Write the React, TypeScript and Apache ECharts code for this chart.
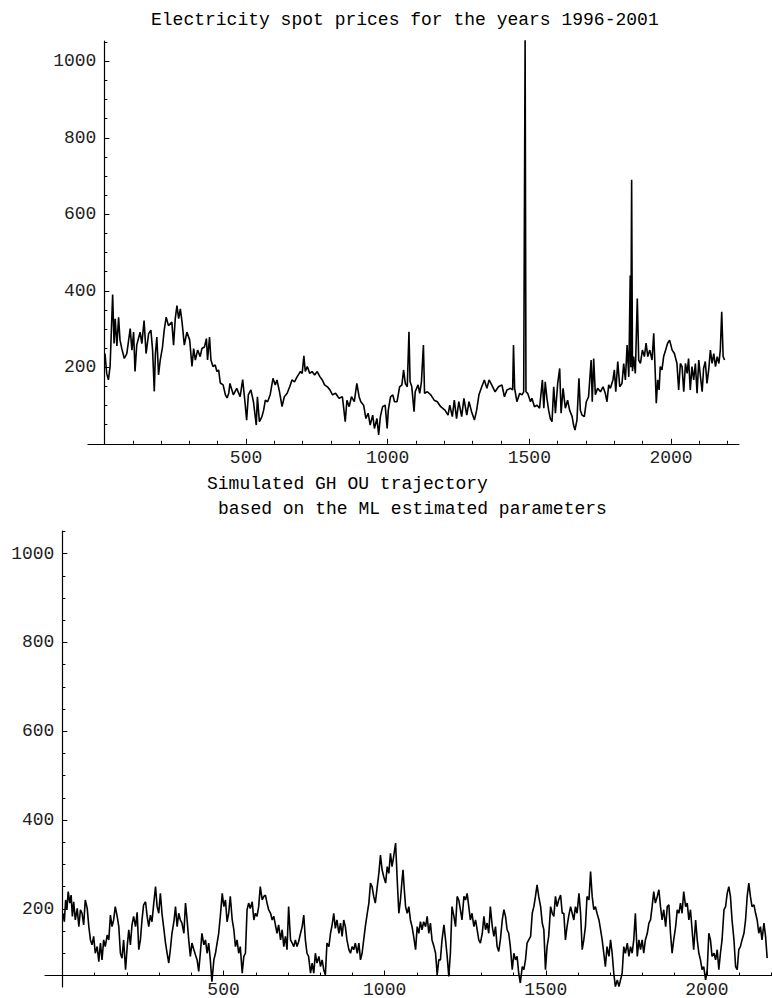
import React, { useEffect, useRef } from "react";
import * as echarts from "echarts";

const TITLE = "Electricity spot prices for the years 1996-2001";
const SUB1 = "Simulated GH OU trajectory";
const SUB2 = "based on the ML estimated parameters";

const majorYTicks = [200, 400, 600, 800, 1000];
const minorYTicks = [50, 100, 150, 250, 300, 350, 450, 500, 550, 650, 700, 750, 850, 900, 950, 1050];
const majorXTicks = [500, 1000, 1500, 2000];
const minorXTicks = [100, 200, 300, 400, 600, 700, 800, 900, 1100, 1200, 1300, 1400, 1600, 1700, 1800, 1900, 2100, 2200];

const spotDays = [
  2, 8, 14, 20, 29, 34, 38, 44, 50, 55, 61, 70, 79, 91, 97, 103, 108, 114, 126, 132, 140, 147, 156, 164, 170, 176, 180, 185, 191, 197,
  205, 211, 218, 226, 238, 244, 250, 256, 262, 268, 274, 282, 291, 301, 309, 315, 321, 329, 338, 344, 353, 360, 364, 371, 376, 383, 391, 397,
  403, 409, 419, 427, 433, 439, 443, 455, 467, 479, 488, 496, 502, 508, 517, 526, 536, 540, 547, 556, 562, 568, 576, 585, 595, 603, 609, 618,
  627, 635, 645, 654, 662, 671, 680, 692, 698, 704, 709, 716, 725, 733, 742, 751, 761, 769, 777, 787, 796, 805, 816, 828, 840, 850, 856, 864,
  872, 882, 891, 899, 905, 915, 923, 931, 938, 947, 953, 962, 968, 974, 982, 991, 998, 1002, 1010, 1018, 1024, 1033, 1042, 1050, 1056, 1062,
  1069, 1075, 1079, 1085, 1093, 1097, 1107, 1113, 1119, 1126, 1130, 1140, 1152, 1164, 1175, 1187, 1202, 1213, 1219, 1228, 1235, 1243, 1251,
  1261, 1269, 1279, 1287, 1296, 1306, 1314, 1322, 1332, 1341, 1350, 1358, 1367, 1379, 1391, 1403, 1412, 1421, 1433, 1441, 1444, 1448, 1456,
  1466, 1474, 1480, 1485, 1488, 1494, 1504, 1509, 1518, 1527, 1536, 1546, 1551, 1556, 1562, 1568, 1574, 1580, 1586, 1592, 1600, 1607, 1612,
  1619, 1627, 1635, 1642, 1651, 1656, 1661, 1668, 1675, 1680, 1686, 1694, 1701, 1709, 1718, 1722, 1727, 1733, 1741, 1751, 1760, 1768, 1774,
  1780, 1786, 1795, 1800, 1805, 1812, 1819, 1827, 1833, 1839, 1845, 1851, 1856, 1858, 1861, 1864, 1868, 1874, 1881, 1886, 1892, 1899, 1906,
  1912, 1918, 1925, 1933, 1939, 1944, 1948, 1953, 1958, 1962, 1968, 1974, 1981, 1988, 1995, 2004, 2012, 2021, 2027, 2033, 2039, 2045, 2051,
  2057, 2062, 2068, 2074, 2080, 2086, 2092, 2098, 2104, 2110, 2115, 2121, 2127, 2133, 2139, 2145, 2151, 2157, 2163, 2169, 2174, 2179, 2184, 2189,
];
const spotPrices = [
  236, 184, 167, 202, 390, 262, 327, 256, 331, 271, 250, 223, 236, 301, 245, 292, 189, 258, 292, 262, 322, 236, 288, 297, 245, 137, 236, 279, 180, 219,
  253, 297, 331, 309, 318, 258, 327, 361, 327, 353, 318, 258, 292, 271, 202, 249, 219, 245, 228, 249, 253, 275, 219, 279, 219, 202, 206, 189,
  193, 159, 154, 128, 120, 133, 158, 128, 145, 123, 168, 110, 62, 128, 141, 110, 49, 123, 58, 71, 88, 114, 110, 128, 171, 154, 167, 136,
  97, 123, 132, 149, 167, 162, 175, 189, 184, 230, 189, 202, 184, 189, 180, 189, 175, 167, 154, 149, 141, 128, 132, 119, 123, 58, 114, 97,
  123, 110, 158, 123, 110, 101, 66, 80, 49, 75, 40, 66, 23, 71, 97, 101, 40, 88, 123, 128, 110, 110, 149, 154, 193, 158,
  149, 293, 162, 149, 84, 136, 154, 132, 162, 258, 132, 136, 128, 114, 110, 97, 88, 75, 101, 71, 114, 66, 110,
  71, 119, 75, 110, 84, 62, 88, 128, 149, 167, 145, 167, 154, 136, 149, 154, 123, 141, 145, 141, 258, 145, 110,
  132, 128, 136, 1060, 136, 132, 110, 119, 97, 101, 93, 167, 93, 162, 119, 88, 66, 58, 149, 80, 158, 197, 80,
  145, 93, 114, 88, 71, 49, 36, 62, 171, 88, 75, 71, 110, 123, 219, 110, 223, 128, 145, 136, 149, 132, 110,
  154, 145, 167, 193, 136, 215, 149, 158, 210, 167, 258, 175, 440, 200, 690, 190, 228, 184, 380, 219, 210, 245, 228,
  263, 228, 245, 219, 289, 193, 106, 167, 141, 202, 193, 228, 245, 263, 271, 245, 236, 210, 141, 210, 202, 136, 210,
  184, 223, 141, 202, 167, 210, 132, 219, 175, 136, 197, 215, 158, 193, 245, 210, 236, 202, 228, 210, 245, 345, 228, 219,
];

const simDays = [
  2, 6, 10, 14, 18, 23, 27, 31, 35, 40, 46, 51, 56, 61, 66, 71, 77, 82, 87, 92, 97, 102, 108, 113, 118, 123, 128, 133, 139, 144,
  149, 154, 159, 164, 170, 175, 180, 185, 190, 196, 201, 206, 211, 216, 221, 227, 232, 237, 242, 247, 252, 258, 263, 268, 273, 278, 283, 289,
  294, 299, 304, 309, 314, 320, 325, 330, 335, 340, 346, 351, 356, 361, 366, 371, 377, 382, 387, 392, 397, 402, 408, 413, 418, 423, 428, 433,
  439, 444, 449, 454, 459, 464, 470, 475, 480, 485, 490, 496, 501, 506, 511, 516, 521, 527, 532, 537, 542, 547, 552, 558, 563, 568, 573, 578,
  583, 589, 594, 599, 604, 609, 614, 620, 625, 630, 635, 640, 646, 651, 656, 661, 666, 671, 677, 682, 687, 692, 697, 702, 708, 713, 718, 723,
  728, 733, 739, 744, 749, 754, 759, 764, 770, 775, 780, 785, 790, 796, 801, 806, 811, 816, 821, 827, 832, 837, 842, 847, 852, 858, 863, 868,
  873, 878, 883, 889, 894, 899, 904, 909, 915, 920, 925, 930, 935, 940, 946, 951, 956, 961, 966, 971, 977, 982, 987, 992, 997, 1003, 1008,
  1013, 1018, 1023, 1028, 1034, 1039, 1044, 1049, 1054, 1057, 1061, 1065, 1070, 1075, 1080, 1085, 1090, 1096, 1101, 1106, 1111, 1116, 1121,
  1127, 1132, 1137, 1142, 1147, 1153, 1158, 1163, 1168, 1173, 1178, 1184, 1189, 1194, 1199, 1204, 1209, 1215, 1220, 1225, 1230, 1235, 1240,
  1246, 1251, 1256, 1261, 1266, 1271, 1277, 1282, 1287, 1292, 1297, 1303, 1308, 1313, 1318, 1323, 1328, 1334, 1339, 1344, 1349, 1354, 1359,
  1365, 1370, 1375, 1380, 1385, 1390, 1396, 1401, 1406, 1411, 1416, 1421, 1427, 1432, 1437, 1442, 1447, 1453, 1458, 1463, 1468, 1473, 1478,
  1484, 1489, 1494, 1499, 1504, 1509, 1515, 1520, 1525, 1530, 1535, 1540, 1546, 1551, 1556, 1561, 1566, 1571, 1577, 1582, 1587, 1592, 1597,
  1603, 1608, 1613, 1618, 1623, 1628, 1634, 1639, 1644, 1649, 1654, 1659, 1665, 1670, 1675, 1680, 1685, 1690, 1696, 1701, 1706, 1711, 1716,
  1722, 1727, 1732, 1737, 1742, 1747, 1753, 1758, 1763, 1768, 1773, 1778, 1784, 1789, 1794, 1799, 1804, 1809, 1815, 1820, 1825, 1830, 1835,
  1840, 1846, 1851, 1856, 1861, 1866, 1872, 1877, 1882, 1887, 1892, 1897, 1903, 1908, 1913, 1918, 1923, 1928, 1934, 1939, 1944, 1949, 1954,
  1959, 1965, 1970, 1975, 1980, 1985, 1990, 1996, 2001, 2006, 2011, 2016, 2022, 2027, 2032, 2037, 2042, 2047, 2053, 2058, 2063, 2068, 2073,
  2078, 2084, 2089, 2094, 2099, 2104, 2109, 2115, 2120, 2125, 2130, 2135, 2140, 2146, 2151, 2156, 2161, 2166, 2171, 2177, 2182, 2187,
];
const simValues = [
  190, 171, 220, 198, 239, 213, 231, 183, 216, 175, 201, 160, 198, 190, 164, 220, 201, 160, 130, 119, 138, 100, 115, 81, 123, 85, 130, 115, 141, 130,
  186, 160, 175, 205, 183, 160, 100, 89, 130, 63, 115, 153, 119, 164, 183, 160, 192, 108, 130, 175, 209, 216, 183, 160, 186, 171, 209, 250,
  205, 190, 235, 190, 160, 123, 100, 78, 108, 145, 171, 205, 160, 190, 175, 168, 145, 213, 175, 130, 93, 123, 108, 96, 85, 59, 100, 145,
  119, 130, 100, 123, 85, 36, 85, 100, 123, 145, 183, 235, 205, 220, 171, 190, 228, 175, 153, 115, 130, 100, 115, 55, 93, 100, 198, 213,
  201, 216, 175, 190, 183, 205, 250, 220, 228, 231, 213, 198, 190, 175, 183, 164, 145, 164, 130, 153, 115, 138, 108, 205, 130, 123, 115, 130,
  115, 126, 145, 160, 186, 130, 100, 93, 55, 78, 55, 100, 78, 93, 70, 85, 63, 51, 123, 115, 145, 164, 190, 156, 175, 145, 168, 138,
  175, 160, 130, 108, 100, 115, 108, 123, 100, 123, 85, 100, 130, 160, 190, 213, 258, 250, 228, 213, 250, 280, 321, 288, 273, 258, 295,
  280, 325, 295, 318, 348, 265, 190, 220, 265, 288, 243, 205, 190, 205, 175, 160, 138, 108, 160, 145, 171, 153, 171,
  160, 183, 145, 168, 130, 115, 100, 51, 85, 85, 130, 164, 130, 93, 48, 100, 205, 183, 160, 228, 220, 198, 175,
  228, 220, 235, 205, 175, 190, 160, 175, 153, 130, 123, 145, 183, 153, 168, 145, 205, 160, 138, 160, 115, 104, 130,
  175, 198, 183, 153, 145, 115, 63, 100, 85, 93, 55, 33, 70, 63, 85, 123, 130, 138, 190, 205, 228, 254, 228,
  205, 168, 153, 63, 115, 138, 205, 190, 183, 228, 205, 220, 231, 190, 190, 130, 160, 183, 205, 190, 175, 205, 190,
  235, 190, 108, 130, 160, 228, 220, 284, 228, 198, 205, 190, 175, 153, 130, 100, 70, 115, 93, 130, 100, 55, 25,
  40, 25, 40, 55, 115, 100, 123, 93, 115, 100, 130, 190, 93, 130, 108, 130, 100, 130, 145, 168, 175, 205, 239,
  213, 228, 243, 205, 175, 198, 160, 205, 209, 145, 100, 130, 160, 198, 190, 213, 190, 239, 205, 213, 175, 198, 153,
  108, 175, 130, 100, 85, 63, 70, 40, 63, 145, 130, 93, 100, 85, 108, 63, 100, 130, 198, 205, 235, 250, 228,
  175, 130, 70, 63, 108, 115, 130, 145, 175, 228, 258, 228, 205, 209, 190, 175, 145, 160, 130, 168, 138, 89,
];

const FONT = "'Liberation Mono', 'Courier New', monospace";
const plainNumber = (v: number) => String(Math.round(v));
const labelStyle = { color: "#222", fontFamily: FONT, fontSize: 18, formatter: plainNumber };

function makeXAxes(gridIndex: number, min: number, max: number, offset: number) {
  return [
    {
      type: "value", gridIndex, min, max, offset, position: "bottom",
      axisLine: { show: true, onZero: false, lineStyle: { color: "#000", width: 1.2 } },
      axisTick: { show: true, inside: true, length: 5, customValues: majorXTicks, lineStyle: { color: "#000", width: 1 } },
      axisLabel: { show: true, customValues: majorXTicks, margin: 5, ...labelStyle },
      splitLine: { show: false },
    },
    {
      type: "value", gridIndex, min, max, offset, position: "bottom",
      axisLine: { show: false, onZero: false },
      axisTick: { show: true, inside: true, length: 3, customValues: minorXTicks, lineStyle: { color: "#000", width: 1 } },
      axisLabel: { show: false },
      splitLine: { show: false },
    },
  ];
}

function makeYAxes(gridIndex: number, min: number, max: number, offset: number) {
  return [
    {
      type: "value", gridIndex, min, max, offset, position: "left",
      axisLine: { show: true, onZero: false, lineStyle: { color: "#000", width: 1.2 } },
      axisTick: { show: true, inside: true, length: 5, customValues: majorYTicks, lineStyle: { color: "#000", width: 1 } },
      axisLabel: { show: true, customValues: majorYTicks, margin: 8, ...labelStyle },
      splitLine: { show: false },
    },
    {
      type: "value", gridIndex, min, max, offset, position: "left",
      axisLine: { show: false, onZero: false },
      axisTick: { show: true, inside: true, length: 3, customValues: minorYTicks, lineStyle: { color: "#000", width: 1 } },
      axisLabel: { show: false },
      splitLine: { show: false },
    },
  ];
}

const titleText = { fontFamily: FONT, fontSize: 18, fontWeight: "normal", color: "#000" };

const option: any = {
  animation: false,
  backgroundColor: "#fff",
  title: [
    { text: TITLE, left: 151, top: 11, padding: 0, textStyle: titleText },
    { text: SUB1, left: 207, top: 475, padding: 0, textStyle: titleText },
    { text: SUB2, left: 218, top: 500, padding: 0, textStyle: titleText },
  ],
  grid: [
    { left: 88, top: 41, width: 651, height: 402.8, containLabel: false, outerBoundsMode: "none" },
    { left: 45, top: 531, width: 727, height: 456, containLabel: false, outerBoundsMode: "none" },
  ],
  xAxis: [...makeXAxes(0, -58, 2240, 0), ...makeXAxes(1, -54, 2202, -11.5)],
  yAxis: [...makeYAxes(0, 0, 1053, -16.4), ...makeYAxes(1, 24, 1051, -17.4)],
  series: [
    {
      type: "line", xAxisIndex: 0, yAxisIndex: 0, silent: true,
      data: spotDays.map((d, i) => [d, spotPrices[i]]),
      showSymbol: false, symbol: "none",
      lineStyle: { color: "#000", width: 1.6 },
    },
    {
      type: "line", xAxisIndex: 2, yAxisIndex: 2, silent: true,
      data: simDays.map((d, i) => [d, simValues[i]]),
      showSymbol: false, symbol: "none",
      lineStyle: { color: "#000", width: 1.6 },
    },
  ],
};

export default function App() {
  const ref = useRef<HTMLDivElement>(null);
  useEffect(() => {
    if (!ref.current) return;
    const chart = echarts.init(ref.current, null, { renderer: "svg", width: 772, height: 998 });
    chart.setOption(option);
    return () => chart.dispose();
  }, []);
  return (
    <div
      ref={ref}
      style={{ position: "fixed", left: 0, top: 0, width: 772, height: 998, background: "#fff" }}
    />
  );
}
